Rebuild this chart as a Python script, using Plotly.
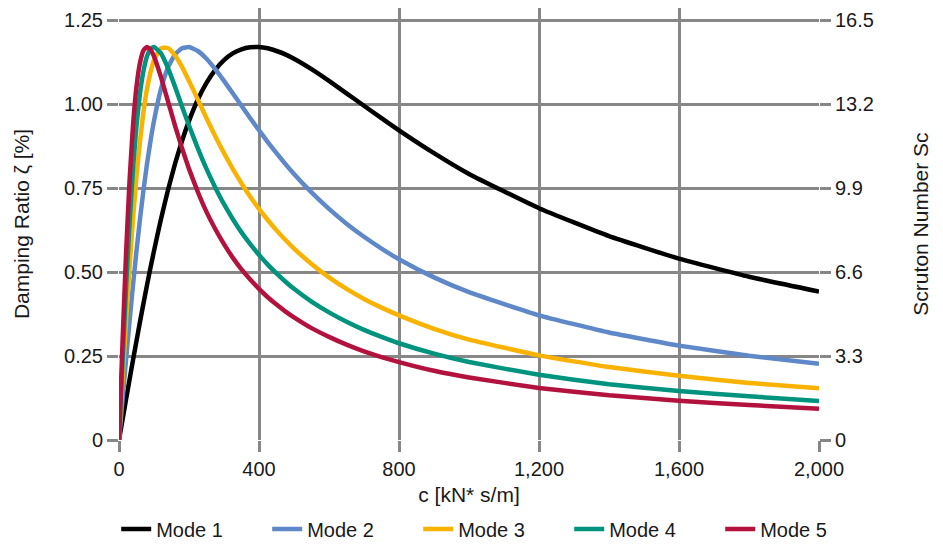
import plotly.graph_objects as go

# Damper coefficient c [kN* s/m]
c_values = [0, 10, 20, 30, 40, 50, 60, 70, 80, 90, 100, 120, 140, 160, 180, 200,
            225, 250, 275, 300, 325, 350, 375, 400, 425, 450, 475, 500, 550, 600,
            650, 700, 750, 800, 900, 1000, 1200, 1400, 1600, 1800, 2000]

# Damping ratio zeta [%]
mode1 = [0, 0.060, 0.120, 0.179, 0.238, 0.295, 0.352, 0.407, 0.461, 0.513, 0.563,
         0.658, 0.744, 0.822, 0.890, 0.950, 1.013, 1.063, 1.102, 1.131, 1.151,
         1.163, 1.169, 1.170, 1.166, 1.158, 1.148, 1.135, 1.104, 1.069, 1.032,
         0.995, 0.958, 0.922, 0.854, 0.792, 0.690, 0.607, 0.540, 0.486, 0.442]
mode2 = [0, 0.120, 0.238, 0.352, 0.461, 0.563, 0.658, 0.744, 0.822, 0.890, 0.950,
         1.045, 1.109, 1.148, 1.166, 1.170, 1.158, 1.135, 1.104, 1.069, 1.032,
         0.995, 0.958, 0.922, 0.887, 0.854, 0.822, 0.792, 0.737, 0.688, 0.644,
         0.605, 0.570, 0.538, 0.484, 0.440, 0.371, 0.320, 0.281, 0.251, 0.227]
mode3 = [0, 0.179, 0.352, 0.513, 0.658, 0.784, 0.890, 0.977, 1.045, 1.095, 1.131,
         1.166, 1.167, 1.145, 1.111, 1.069, 1.014, 0.958, 0.904, 0.854, 0.807,
         0.764, 0.724, 0.688, 0.655, 0.624, 0.596, 0.570, 0.524, 0.484, 0.450,
         0.420, 0.394, 0.371, 0.331, 0.299, 0.252, 0.217, 0.191, 0.170, 0.154]
mode4 = [0, 0.232, 0.450, 0.644, 0.807, 0.936, 1.032, 1.099, 1.142, 1.164, 1.170,
         1.151, 1.107, 1.052, 0.993, 0.936, 0.869, 0.807, 0.752, 0.702, 0.658,
         0.618, 0.583, 0.551, 0.522, 0.496, 0.472, 0.450, 0.412, 0.380, 0.352,
         0.328, 0.307, 0.288, 0.257, 0.232, 0.194, 0.166, 0.146, 0.130, 0.116]
mode5 = [0, 0.288, 0.551, 0.769, 0.936, 1.052, 1.123, 1.160, 1.170, 1.162, 1.142,
         1.080, 1.008, 0.936, 0.869, 0.807, 0.739, 0.679, 0.628, 0.583, 0.543,
         0.508, 0.478, 0.450, 0.425, 0.403, 0.383, 0.365, 0.333, 0.307, 0.284,
         0.264, 0.247, 0.232, 0.206, 0.186, 0.155, 0.133, 0.117, 0.104, 0.093]

series_names = ["Mode 1", "Mode 2", "Mode 3", "Mode 4", "Mode 5"]
series_values = [mode1, mode2, mode3, mode4, mode5]
series_colors = ["#000000", "#5F88C8", "#F9B200", "#00937D", "#B3123F"]

left_ticks = [0, 0.25, 0.5, 0.75, 1.0, 1.25]
left_tick_labels = ["0", "0.25", "0.50", "0.75", "1.00", "1.25"]
right_ticks = [0, 3.3, 6.6, 9.9, 13.2, 16.5]
right_tick_labels = ["0", "3.3", "6.6", "9.9", "13.2", "16.5"]
x_ticks = [0, 400, 800, 1200, 1600, 2000]
x_tick_labels = ["0", "400", "800", "1,200", "1,600", "2,000"]

y_top = 1.286
scruton_per_zeta = 13.2

GRID = "#878787"
FONT = "Liberation Sans, Arial, Helvetica, sans-serif"

fig = go.Figure()
for name, vals, col in zip(series_names, series_values, series_colors):
    fig.add_trace(go.Scatter(
        x=c_values, y=vals, name=name, mode="lines",
        line=dict(color=col, width=4.5, shape="spline", smoothing=0.4),
    ))

# invisible trace to activate the secondary (Scruton) axis
fig.add_trace(go.Scatter(x=[None], y=[None], yaxis="y2", showlegend=False,
                         hoverinfo="skip", mode="lines"))

# the page body adds an 8px offset, so the figure is sized to fit the window
fig.update_layout(
    width=935, height=537,
    margin=dict(l=111, r=124, t=0, b=105, autoexpand=False),
    paper_bgcolor="white", plot_bgcolor="white",
    font=dict(family=FONT, size=21, color="#1a1a1a"),
    showlegend=True,
    legend=dict(orientation="h", x=-0.004, xanchor="left", y=-0.206, yanchor="middle",
                entrywidth=106, entrywidthmode="pixels",
                font=dict(family=FONT, size=20), bgcolor="rgba(0,0,0,0)"),
    xaxis=dict(
        range=[0, 2000], tickvals=x_ticks, ticktext=x_tick_labels,
        showgrid=True, gridcolor=GRID, gridwidth=2.5,
        zeroline=False, showline=False, automargin=False,
        ticks="outside", ticklen=11, tickwidth=2.5, tickcolor=GRID,
        tickfont=dict(family=FONT, size=20),
        title=dict(text="c [kN* s/m]", standoff=8, font=dict(family=FONT, size=21)),
    ),
    yaxis=dict(
        range=[0, y_top], tickvals=left_ticks, ticktext=left_tick_labels,
        showgrid=True, gridcolor=GRID, gridwidth=2.5,
        zeroline=False, showline=False, automargin=False,
        ticks="outside", ticklen=11, tickwidth=2.5, tickcolor=GRID,
        tickfont=dict(family=FONT, size=20),
        title=dict(text="Damping Ratio ζ [%]", standoff=28, font=dict(family=FONT, size=21)),
    ),
    yaxis2=dict(
        overlaying="y", side="right", anchor="x",
        range=[0, y_top * scruton_per_zeta],
        tickvals=right_ticks, ticktext=right_tick_labels,
        showgrid=False, zeroline=False, showline=False, automargin=False,
        ticks="outside", ticklen=11, tickwidth=2.5, tickcolor=GRID,
        tickfont=dict(family=FONT, size=20),
        title=dict(text="Scruton Number Sc", standoff=40, font=dict(family=FONT, size=21)),
    ),
)

fig.write_html("out.html")
